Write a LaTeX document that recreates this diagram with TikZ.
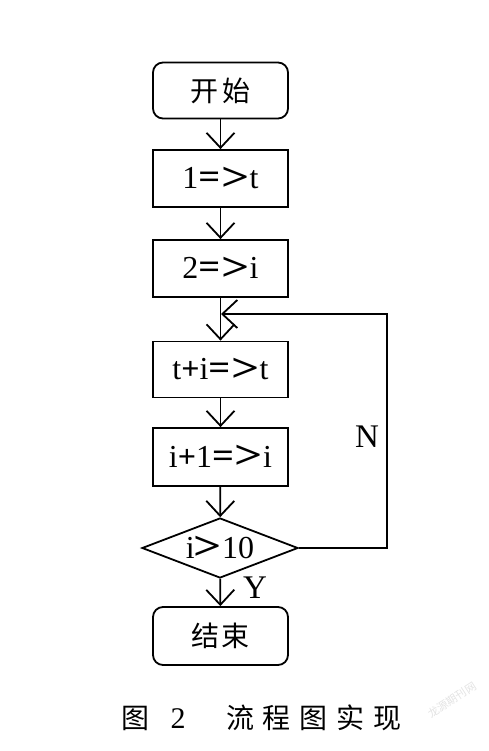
\documentclass[tikz,border=0pt]{standalone}
\usepackage{fontspec}
\usepackage{graphicx}
\setmainfont{Liberation Serif}
\newfontfamily\cjk{Noto Sans CJK SC}
\usetikzlibrary{arrows.meta,shapes.geometric}
\newcommand{\bigsym}[1]{\raisebox{-1.5pt}{\scalebox{1.55}[1.25]{\textbf{#1}}}}
\newcommand{\assignto}{\scalebox{1.2}[1.1]{\textbf{=}}\kern1pt\bigsym{>}}
\newcommand{\plussym}{\textbf{+}}
\begin{document}
\begin{tikzpicture}[x=1pt,y=-1pt,
  every node/.style={inner sep=0pt},
  box/.style={draw,line width=1.8pt,minimum width=135pt,minimum height=56pt,font=\fontsize{32}{36}\selectfont},
  term/.style={box,rounded corners=10pt,font=\cjk\fontsize{28}{32}\selectfont},
  cond/.style={draw,diamond,aspect=2.6,line width=1.8pt,minimum width=156pt,minimum height=60pt,font=\fontsize{32}{36}\selectfont},
  flow/.style={line width=1.8pt,-{Straight Barb[length=15pt,width=28pt]}},
  lbl/.style={font=\fontsize{33}{36}\selectfont},
  captxt/.style={font=\cjk\fontsize{28}{32}\selectfont}]
\useasboundingbox (0,0) rectangle (489,751);
\node[term] (start) at (220.5,90.5) {开\hspace{4pt}始};
\node[box,minimum height=57pt] (s1) at (220.5,178.5) {1\assignto t};
\node[box,minimum height=57pt] (s2) at (220.5,268.5) {2\assignto i};
\node[box] (s3) at (220.5,369.5) {t\plussym i\assignto t};
\node[box,minimum height=58pt] (s4) at (220.5,457) {i\plussym 1\assignto i};
\node[cond] (dia) at (220,548) {i\kern-1pt\bigsym{>}10};
\node[term,minimum height=58pt] (end) at (220.5,636) {结\hspace{2pt}束};
\coordinate (lt) at (387,314);
\coordinate (lm) at (221,314);
\draw[flow] (start) -- (s1);
\draw[flow] (s1) -- (s2);
\draw[flow] (s2) -- (s3);
\draw[flow] (s3) -- (s4);
\draw[flow] (s4) -- (dia);
\draw[flow] (dia) -- (end);
\draw[flow] (dia.east) -| (lt) -- (lm);
\node[lbl] (ylab) at (255,588) {Y};
\node[lbl] (nlab) at (367,437) {N};
\node[captxt] (cap1) at (135,718) {图};
\node[font=\fontsize{30}{32}\selectfont] (cap2) at (178,719) {2};
\node[captxt] (cap3) at (314,718) {流\hspace{9pt}程\hspace{9pt}图\hspace{9pt}实\hspace{9pt}现};
\node[rotate=33,text=gray!22,font=\cjk\fontsize{11}{12}\selectfont] (wm) at (452,700) {龙源期刊网};
\end{tikzpicture}
\end{document}
